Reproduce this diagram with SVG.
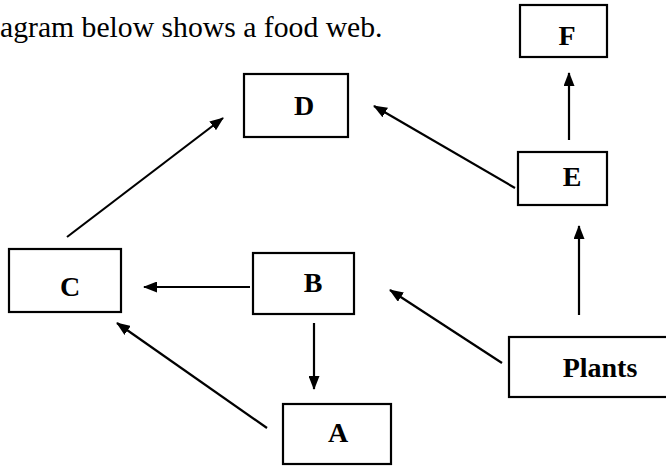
<svg xmlns="http://www.w3.org/2000/svg" width="666" height="466" viewBox="0 0 666 466">
<defs>
<marker id="ah" markerWidth="14" markerHeight="11" refX="13" refY="5.5" orient="auto" markerUnits="userSpaceOnUse">
<path d="M0,0 L14,5.5 L0,11 Z" fill="#000"/>
</marker>
<style>
.box{fill:#fff;stroke:#000;stroke-width:2.2}
.lbl{font-family:"Liberation Serif",serif;font-weight:bold;font-size:28px;text-anchor:middle;fill:#000}
.ln{stroke:#000;stroke-width:2.2;fill:none;marker-end:url(#ah)}
</style>
</defs>
<rect width="666" height="466" fill="#fff"/>
<text x="0" y="37" font-family="'Liberation Serif',serif" font-size="29.7" fill="#000">agram below shows a food web.</text>
<g id="connectors">
<line class="ln" x1="569" y1="140" x2="569" y2="73"/>
<line class="ln" x1="579" y1="315" x2="579" y2="226"/>
<line class="ln" x1="515" y1="188" x2="374" y2="106"/>
<line class="ln" x1="67" y1="237" x2="223" y2="118"/>
<line class="ln" x1="250" y1="287" x2="144" y2="287"/>
<line class="ln" x1="314" y1="323" x2="314" y2="389"/>
<line class="ln" x1="502" y1="363" x2="390" y2="290"/>
<line class="ln" x1="267" y1="428" x2="117" y2="323"/>
</g>
<g id="node-F"><rect class="box" x="520" y="5" width="87" height="52"/><text class="lbl" x="567" y="45">F</text></g>
<g id="node-E"><rect class="box" x="518" y="152" width="89" height="53"/><text class="lbl" x="572" y="186">E</text></g>
<g id="node-D"><rect class="box" x="244" y="74" width="104" height="63"/><text class="lbl" x="304" y="115">D</text></g>
<g id="node-C"><rect class="box" x="9" y="249" width="112" height="63"/><text class="lbl" x="70" y="296">C</text></g>
<g id="node-B"><rect class="box" x="253" y="253" width="101" height="61"/><text class="lbl" x="313" y="292">B</text></g>
<g id="node-A"><rect class="box" x="283" y="404" width="108" height="60"/><text class="lbl" x="338" y="442">A</text></g>
<g id="node-Plants"><rect class="box" x="509" y="337" width="160" height="60"/><text class="lbl" x="600" y="377">Plants</text></g>
</svg>
